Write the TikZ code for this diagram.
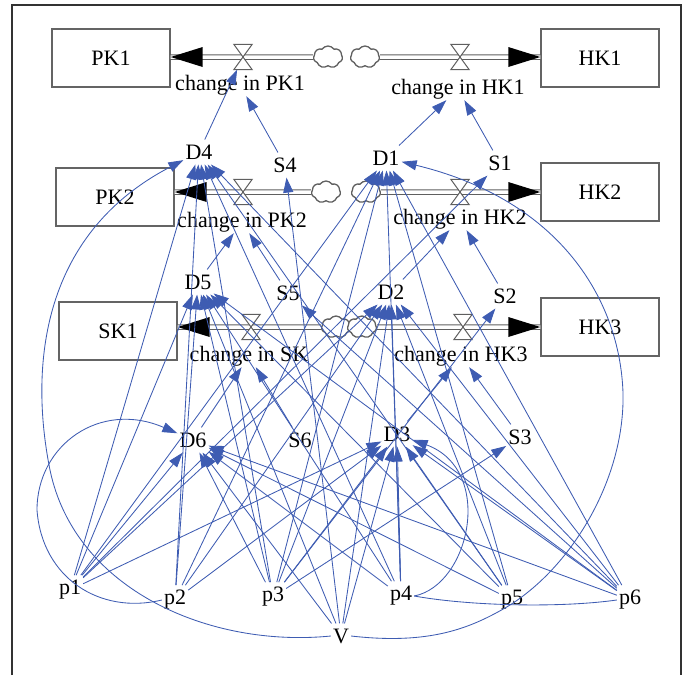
\documentclass[tikz,border=0pt]{standalone}
\usepackage{fontspec}
\setmainfont{Liberation Serif}
\usetikzlibrary{arrows.meta,shapes.symbols,calc}
\definecolor{lk}{RGB}{62,92,178}
\definecolor{bx}{RGB}{100,100,100}
\definecolor{pp}{RGB}{95,95,95}
\definecolor{frm}{RGB}{50,50,50}
\tikzset{
 lbl/.style={font=\fontsize{22}{25}\selectfont, text=black},
 stock/.style={lbl, draw=bx, line width=1.4pt, minimum width=118pt, minimum height=58pt, inner sep=0pt},
 aux/.style={lbl, inner xsep=2pt, inner ysep=5pt},
 flowlbl/.style={lbl, inner xsep=1pt, inner ysep=1pt},
 arr/.style={draw=lk, line width=0.85pt, -{Triangle[length=15pt,width=10pt]}},
 link/.style={draw=lk, line width=0.85pt},
 pipe/.style={draw=pp, line width=1pt, double=white, double distance=3.5pt},
 cloudn/.style={cloud, cloud puffs=7, cloud puff arc=110, aspect=1.4, draw=pp, line width=1.3pt, fill=white, minimum width=29pt, minimum height=22pt, inner sep=0pt},
 valven/.style={minimum width=18pt, minimum height=25pt, inner sep=0pt},
 valveshape/.style={draw=pp, line width=1pt, fill=white},
}
\begin{document}
\begin{tikzpicture}[x=1pt,y=-1pt]
\useasboundingbox (0,0) rectangle (690,675);
\draw[frm, line width=1.8pt] (12,675) -- (12,5) -- (681,5) -- (681,675);

% stocks
\node[stock] (PK1) at (111,58) {PK1};
\node[stock] (HK1) at (600,58) {HK1};
\node[stock] (PK2) at (115,197) {PK2};
\node[stock] (HK2) at (600,192) {HK2};
\node[stock] (SK1) at (118,331) {SK1};
\node[stock] (HK3) at (600,327) {HK3};

% clouds
\node[cloudn] (cPK1) at (328,57) {};
\node[cloudn] (cHK1) at (365,57) {};
\node[cloudn] (cPK2) at (326,192) {};
\node[cloudn] (cHK2) at (366,192) {};
\node[cloudn] (cSK) at (336,327) {};
\node[cloudn] (cHK3) at (362,327) {};

% valves
\node[valven] (vPK1) at (243,57) {};
\node[valven] (vHK1) at (460,57) {};
\node[valven] (vPK2) at (243,192) {};
\node[valven] (vHK2) at (460,192) {};
\node[valven] (vSK) at (251,327) {};
\node[valven] (vHK3) at (463,327) {};

% arrow tip points at stocks
\coordinate (tPK1) at (PK1.east |- vPK1);
\coordinate (tHK1) at (HK1.west |- vHK1);
\coordinate (tPK2) at (PK2.east |- vPK2);
\coordinate (tHK2) at (HK2.west |- vHK2);
\coordinate (tSK) at (SK1.east |- vSK);
\coordinate (tHK3) at (HK3.west |- vHK3);

% pipes
\draw[pipe] (cPK1.west) -- (tPK1);
\draw[pipe] (cHK1.east) -- (tHK1);
\draw[pipe] (cPK2.west) -- (tPK2);
\draw[pipe] (cHK2.east) -- (tHK2);
\draw[pipe] (cSK.west) -- (tSK);
\draw[pipe] (cHK3.east) -- (tHK3);

% valve shapes
\foreach \v in {vPK1,vHK1,vPK2,vHK2,vSK,vHK3}{
  \draw[valveshape] (\v.north west) -- (\v.north east) -- (\v.south west) -- (\v.south east) -- cycle;
}
% big flow arrowheads
\foreach \t in {tPK1,tPK2,tSK}{\fill[black] (\t) -- ++(32,-10) -- ++(0,20) -- cycle;}
\foreach \t in {tHK1,tHK2,tHK3}{\fill[black] (\t) -- ++(-32,-10) -- ++(0,20) -- cycle;}

% flow labels
\node[flowlbl] (lPK1) at (240,85) {change in PK1};
\node[flowlbl] (lHK1) at (458,89) {change in HK1};
\node[flowlbl] (lPK2) at (242,222) {change in PK2};
\node[flowlbl] (lHK2) at (460,219) {change in HK2};
\node[flowlbl] (lSK) at (249,356) {change in SK};
\node[flowlbl] (lHK3) at (461,356) {change in HK3};

% auxiliaries
\node[aux] (D4) at (199,152) {D4};
\node[aux] (S4) at (285,165) {S4};
\node[aux] (D1) at (386,158) {D1};
\node[aux] (S1) at (500,163) {S1};
\node[aux] (D5) at (198,282) {D5};
\node[aux] (S5) at (288,293) {S5};
\node[aux] (D2) at (391,292) {D2};
\node[aux] (S2) at (505,296) {S2};
\node[aux] (D6) at (193,440) {D6};
\node[aux] (S6) at (300,440) {S6};
\node[aux] (D3) at (397,434) {D3};
\node[aux] (S3) at (520,437) {S3};
\node[aux] (p1) at (70,590) {p1};
\node[aux] (p2) at (175,600) {p2};
\node[aux] (p3) at (273,597) {p3};
\node[aux] (p4) at (401,596) {p4};
\node[aux] (p5) at (512,600) {p5};
\node[aux] (p6) at (630,600) {p6};
\node[aux] (V) at (341,636) {V};

% links to flows
\draw[arr] (D4) -- (vPK1);
\draw[arr] (S4) -- (lPK1);
\draw[arr] (D1) -- (lHK1);
\draw[arr] (S1) -- (lHK1);
\draw[arr] (D5) -- (lPK2);
\draw[arr] (S5) -- (lPK2);
\draw[arr] (D2) -- (lHK2);
\draw[arr] (S2) -- (lHK2);
\draw[arr] (D6) -- (lSK);
\draw[arr] (S6) -- (lSK);
\draw[arr] (D3) -- (lHK3);
\draw[arr] (S3) -- (lHK3);

% straight links from parameters
\foreach \p/\d in {p1/D1,p2/D1,p3/D1,p4/D1,p5/D1,p6/D1,
                   p1/D2,p2/D2,p3/D2,p4/D2,p5/D2,p6/D2,V/D2,
                   p1/D3,p2/D3,p3/D3,p4/D3,p5/D3,p6/D3,V/D3,
                   p1/D4,p2/D4,p3/D4,p4/D4,p5/D4,p6/D4,
                   p1/D5,p2/D5,p3/D5,p4/D5,p5/D5,p6/D5,V/D5,
                   p1/D6,p3/D6,p4/D6,p5/D6,p6/D6,V/D6,
                   p1/S1,p3/S2,p3/S3,V/S4,p6/S5}{
  \draw[arr] (\p) -- (\d);
}

% curved links
\draw[arr] (V.west) .. controls (210,648) and (75,590) .. (50,470)
   .. controls (33,386) and (30,240) .. (D4);
\draw[arr] (p2.west) .. controls (100,615) and (42,578) .. (37,510)
   .. controls (37,445) and (100,400) .. (D6);
\draw[arr] (V.east) .. controls (430,645) and (470,628) .. (505,608)
   .. controls (570,570) and (625,480) .. (623,393)
   .. controls (620,300) and (560,200) .. (D1);
\draw[link] (p6.west) .. controls (560,608) and (470,606) .. (p4.east);
\draw[arr] (p4.east) .. controls (470,585) and (495,470) .. (D3);
\end{tikzpicture}
\end{document}
